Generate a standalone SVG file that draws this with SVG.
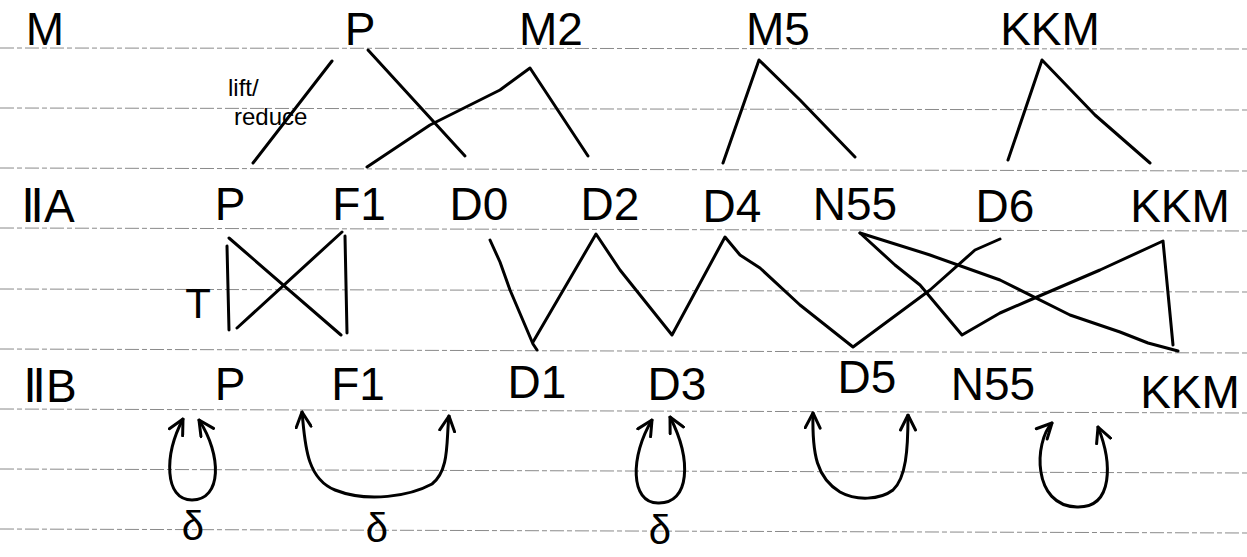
<svg xmlns="http://www.w3.org/2000/svg" width="1247" height="557" viewBox="0 0 1247 557">
  <style>
    .rule { stroke: #8a8a8a; stroke-width: 1; stroke-dasharray: 14 3 5 3; fill: none; }
    .lbl { font-family: "Liberation Sans", "DejaVu Sans", sans-serif; font-size: 46px; fill: #000; text-anchor: middle; }
    .small { font-family: "Liberation Sans", "DejaVu Sans", sans-serif; font-size: 24px; fill: #000; }
    .greek { font-family: "Liberation Sans", "DejaVu Sans", sans-serif; font-size: 40px; fill: #000; text-anchor: middle; }
    .edge { stroke: #000; stroke-width: 3; fill: none; stroke-linecap: round; stroke-linejoin: round; }
    .loop { stroke: #000; stroke-width: 3; fill: none; stroke-linecap: round; marker-start: url(#chev); marker-end: url(#chev); }
  </style>
  <defs>
    <marker id="chev" viewBox="0 0 12 12" refX="11" refY="6" markerWidth="18" markerHeight="18" markerUnits="userSpaceOnUse" orient="auto-start-reverse">
      <path d="M1,1 L11,6 L1,11" fill="none" stroke="#000" stroke-width="2" stroke-linecap="round" stroke-linejoin="round"/>
    </marker>
  </defs>
  <rect width="1247" height="557" fill="#fff"/>

  <!-- ruled paper -->
  <g id="ruling">
    <line class="rule" x1="0" y1="48" x2="1247" y2="49"/>
    <line class="rule" x1="0" y1="108" x2="1247" y2="110"/>
    <line class="rule" x1="0" y1="168" x2="1247" y2="171"/>
    <line class="rule" x1="0" y1="228" x2="1247" y2="231"/>
    <line class="rule" x1="0" y1="289" x2="1247" y2="292"/>
    <line class="rule" x1="0" y1="349" x2="1247" y2="353"/>
    <line class="rule" x1="0" y1="409" x2="1247" y2="413"/>
    <line class="rule" x1="0" y1="469" x2="1247" y2="473"/>
    <line class="rule" x1="0" y1="529" x2="1247" y2="533"/>
  </g>

  <!-- row headers -->
  <g id="row-M"><text class="lbl" x="45" y="45">M</text></g>
  <g id="row-IIA"><text class="lbl" x="48" y="222">ⅡA</text></g>
  <g id="row-IIB"><text class="lbl" x="50" y="402">ⅡB</text></g>

  <!-- top row nodes -->
  <g id="m-P"><text class="lbl" x="360" y="45">P</text></g>
  <g id="m-M2"><text class="lbl" x="551" y="45">M2</text></g>
  <g id="m-M5"><text class="lbl" x="778" y="45">M5</text></g>
  <g id="m-KKM"><text class="lbl" x="1050" y="45">KKM</text></g>

  <!-- IIA nodes -->
  <g id="a-P"><text class="lbl" x="230" y="220">P</text></g>
  <g id="a-F1"><text class="lbl" x="359" y="220">F1</text></g>
  <g id="a-D0"><text class="lbl" x="479" y="220">D0</text></g>
  <g id="a-D2"><text class="lbl" x="610" y="220">D2</text></g>
  <g id="a-D4"><text class="lbl" x="732" y="222">D4</text></g>
  <g id="a-N55"><text class="lbl" x="855" y="220">N55</text></g>
  <g id="a-D6"><text class="lbl" x="1005" y="222">D6</text></g>
  <g id="a-KKM"><text class="lbl" x="1180" y="222">KKM</text></g>

  <!-- IIB nodes -->
  <g id="b-P"><text class="lbl" x="230" y="400">P</text></g>
  <g id="b-F1"><text class="lbl" x="358" y="400">F1</text></g>
  <g id="b-D1"><text class="lbl" x="537" y="398">D1</text></g>
  <g id="b-D3"><text class="lbl" x="677" y="400">D3</text></g>
  <g id="b-D5"><text class="lbl" x="867" y="393">D5</text></g>
  <g id="b-N55"><text class="lbl" x="993" y="400">N55</text></g>
  <g id="b-KKM"><text class="lbl" x="1190" y="408">KKM</text></g>

  <!-- annotations -->
  <g id="note-lift">
    <text class="small" x="228" y="96">lift/</text>
    <text class="small" x="234" y="125">reduce</text>
  </g>
  <g id="note-T"><text class="lbl" x="198" y="318" style="font-size:42px">T</text></g>
  <g id="delta-1"><text class="greek" x="193" y="540">δ</text></g>
  <g id="delta-2"><text class="greek" x="377" y="542">δ</text></g>
  <g id="delta-3"><text class="greek" x="660" y="544">δ</text></g>

  <!-- connectors -->
  <g id="connectors">
    <!-- lift/reduce slash -->
    <line class="edge" x1="332" y1="61" x2="253" y2="163"/>
    <!-- M level to IIA -->
    <line class="edge" x1="368" y1="50" x2="465" y2="156"/>
    <polyline class="edge" points="367,167 430,125 500,90 530,68 588,156"/>
    <polyline class="edge" points="723,163 759,60 800,100 855,157"/>
    <polyline class="edge" points="1008,160 1042,60 1095,115 1150,163"/>
    <!-- T box between P and F1 -->
    <line class="edge" x1="227" y1="246" x2="229" y2="330"/>
    <line class="edge" x1="345" y1="236" x2="347" y2="333"/>
    <line class="edge" x1="229" y1="238" x2="341" y2="335"/>
    <line class="edge" x1="237" y1="328" x2="342" y2="232"/>
    <!-- zigzag D0-D1-D2-D3-D4-D5-D6 -->
    <polyline class="edge" points="490,240 500,262 510,290 533,344 537,350"/>
    <polyline class="edge" points="533,342 596,234 620,270 672,335 725,237 740,255 760,268 800,305 853,347 880,327 930,290 975,250 1000,239"/>
    <!-- N55 crossings -->
    <polyline class="edge" points="860,233 895,265 920,285 962,335 1000,313 1030,300 1100,270 1163,241 1173,345"/>
    <polyline class="edge" points="860,233 930,255 1000,280 1070,315 1120,332 1148,343 1178,351"/>

    <!-- δ loops in IIB -->
    <path class="loop" d="M183,419 C164,455 164,500 192,500 C222,500 222,455 199,420"/>
    <path class="loop" d="M302,412 C305,440 305,478 335,490 C368,503 410,496 432,484 C450,470 446,440 449,416"/>
    <path class="loop" d="M652,420 C630,456 630,503 658,503 C690,504 692,460 670,417"/>
    <path class="loop" d="M813,413 C812,455 817,478 840,492 C856,501 880,500 893,490 C906,478 908,450 908,415"/>
    <path class="loop" d="M1052,423 C1034,442 1032,506 1077,507 C1114,508 1112,462 1098,427"/>
  </g>
</svg>
